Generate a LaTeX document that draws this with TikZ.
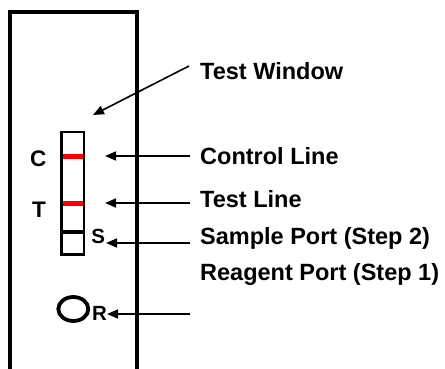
\documentclass[tikz,border=0pt]{standalone}
\usepackage{fontspec}
\setmainfont{Liberation Sans}
\usetikzlibrary{arrows.meta}
\begin{document}
\begin{tikzpicture}[x=1pt,y=-1pt,
  lbl/.style={anchor=west,inner sep=0pt,font=\fontsize{23.5}{26}\selectfont\bfseries},
  letter/.style={inner sep=0pt,font=\fontsize{22.5}{24}\selectfont\bfseries},
  smallletter/.style={inner sep=0pt,font=\fontsize{20.5}{22}\selectfont\bfseries},
  arr/.style={line width=1.6pt,-{Triangle[length=11pt,width=9pt]}},
  redl/.style={draw=red,line width=5pt}]
\useasboundingbox (0,0) rectangle (445,369);
% device body (open at bottom)
\draw[line width=4pt] (10,369) -- (10,12) -- (137,12) -- (137,369);
% strip window
\draw[line width=2.8pt] (61.3,132) rectangle (84,254.5);
\draw[line width=4.5pt] (61.3,232) -- (84,232);
\draw[redl] (62.5,156.7) -- (82.8,156.7);
\draw[redl] (62.5,203.7) -- (82.8,203.7);
% reagent port
\draw[line width=3.8pt] (73.3,309) ellipse [x radius=15pt, y radius=12pt];
% letters
\node[letter] (C) at (38.3,158.5) {C};
\node[letter] (T) at (39,209.5) {T};
\node[smallletter] (S) at (98.3,236.5) {S};
\node[smallletter] (R) at (99.5,313.5) {R};
% labels
\node[lbl] (tw) at (200,71) {Test Window};
\node[lbl] (cl) at (200,156) {Control Line};
\node[lbl] (tl) at (200,199) {Test Line};
\node[lbl] (sp) at (200,238) {Sample Port (Step 2)};
\node[lbl] (rp) at (200,274) {Reagent Port (Step 1)};
% arrow coordinates
\coordinate (twS) at (189,66);  \coordinate (twE) at (93,115);
\coordinate (clS) at (190,156); \coordinate (clE) at (105,156);
\coordinate (tlS) at (190,203); \coordinate (tlE) at (105,203);
\coordinate (spS) at (190,243); \coordinate (spE) at (106,243);
\coordinate (rpS) at (190,314); \coordinate (rpE) at (107,314);
\draw[arr] (twS) -- (twE);
\draw[arr] (clS) -- (clE);
\draw[arr] (tlS) -- (tlE);
\draw[arr] (spS) -- (spE);
\draw[arr] (rpS) -- (rpE);
\end{tikzpicture}
\end{document}
